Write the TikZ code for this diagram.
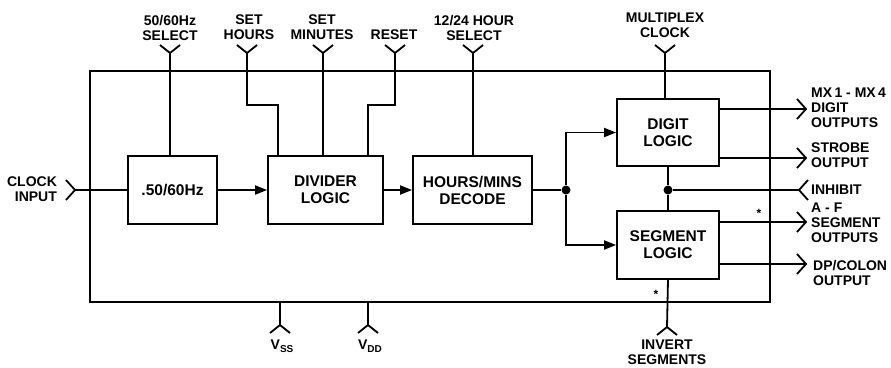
\documentclass[tikz,border=0pt]{standalone}
\usepackage{fontspec}
\setmainfont{Liberation Sans}
\usetikzlibrary{arrows.meta}

\begin{document}
\begin{tikzpicture}[x=1pt,y=-1pt,
    wire/.style={line width=1.8pt},
    blk/.style={draw,wire,align=center,inner sep=0pt,font=\bfseries\fontsize{15.5}{17}\selectfont},
    lbl/.style={align=center,inner sep=0pt,font=\bfseries\fontsize{14}{15}\selectfont},
    sig/.style={wire,-{Triangle[length=12pt,width=9pt]}},
    jdot/.style={circle,fill,inner sep=0pt,minimum size=9pt}]
  \useasboundingbox (0,0) rectangle (891,367);

  % chip outline and blocks
  \node[draw,wire,minimum width=680pt,minimum height=231pt] (chip) at (430,186.5) {};
  \node[blk,minimum width=89pt,minimum height=68pt] (hz) at (172.5,190) {.50/60Hz};
  \node[blk,minimum width=115pt,minimum height=68pt] (div) at (325.5,190) {DIVIDER\\LOGIC};
  \node[blk,minimum width=119pt,minimum height=68pt] (dec) at (472.5,190) {HOURS/MINS\\DECODE};
  \node[blk,minimum width=102pt,minimum height=67pt] (dig) at (668,132.5) {DIGIT\\LOGIC};
  \node[blk,minimum width=102pt,minimum height=68pt] (seg) at (668,245) {SEGMENT\\LOGIC};

  % top input pins
  \foreach \n/\x in {hzsel/170, sethr/247, setmin/323, rst/395, hrsel/473, mpx/665} {
    \coordinate (\n) at (\x,53);
    \draw[wire] (\n) ++(-10,-8) -- (\n) -- ++(10,-8);
  }
  \draw[wire] (hzsel) -- (hzsel |- hz.north);
  \draw[wire] (sethr) -- (247,105) -| ([xshift=-47.5pt]div.north);
  \draw[wire] (setmin) -- (setmin |- div.north);
  \draw[wire] (rst) -- (395,105) -| ([xshift=42.5pt]div.north);
  \draw[wire] (hrsel) -- (hrsel |- dec.north);
  \draw[wire] (mpx) -- (mpx |- dig.north);

  \node[lbl] (hzsell) at (170,27.5) {50/60Hz\\SELECT};
  \node[lbl] (sethrl) at (249,27.5) {SET\\HOURS};
  \node[lbl] (setminl) at (322,27.5) {SET\\MINUTES};
  \node[lbl] (rstl) at (394,35) {RESET};
  \node[lbl] (hrsell) at (474,27.5) {12/24 HOUR\\SELECT};
  \node[lbl] (mpxl) at (665,25) {MULTIPLEX\\CLOCK};

  % clock input
  \coordinate (clk) at (75,190);
  \draw[wire] (clk) ++(-9,-10) -- (clk) -- ++(-9,10);
  \draw[wire] (clk) -- (hz.west);
  \node[lbl,align=right] (clkl) at (32,189) {CLOCK\\INPUT};

  % data path
  \draw[sig] (hz) -- (div);
  \draw[sig] (div) -- (dec);
  \node[jdot] (j1) at (566,190) {};
  \draw[wire] (dec) -- (j1);
  \draw[sig] (j1) |- (dig.west);
  \draw[sig] (j1) |- (seg.west);
  \node[jdot] (j2) at (dig.south |- j1) {};
  \draw[wire] (dig) -- (j2) -- (seg);

  % inhibit input
  \coordinate (inh) at (799,190);
  \draw[wire] (inh) ++(9,-10) -- (inh) -- ++(9,10);
  \draw[wire] (inh) -- (j2);

  % outputs
  \foreach \n/\y in {dout/109, strb/158, sout/222, dpout/264} {
    \coordinate (\n) at (806,\y);
    \draw[wire] (\n) ++(-9,-10) -- (\n) -- ++(-9,10);
  }
  \draw[wire] (dig.east |- dout) -- (dout);
  \draw[wire] (dig.east |- strb) -- (strb);
  \draw[wire] (seg.east |- sout) -- (sout);
  \draw[wire] (seg.east |- dpout) -- (dpout);

  \node[lbl,align=left,anchor=west] (doutl) at (811,108) {MX\,1 - MX\,4\\DIGIT\\OUTPUTS};
  \node[lbl,align=left,anchor=west] (strbl) at (811,155) {STROBE\\OUTPUT};
  \node[lbl,align=left,anchor=west] (inhl) at (811,190) {INHIBIT};
  \node[lbl,align=left,anchor=west] (soutl) at (811,222.5) {A - F\\SEGMENT\\OUTPUTS};
  \node[lbl,align=left,anchor=west] (dpoutl) at (813,272.5) {DP/COLON\\OUTPUT};
  \node[inner sep=0pt,font=\bfseries\fontsize{12}{12}\selectfont] (st1) at (759,213) {*};

  % bottom pins
  \coordinate (inv) at (667,327);
  \draw[wire] (inv) ++(-10,8) -- (inv) -- ++(10,8);
  \draw[wire] (seg.south) -- (inv);
  \node[lbl] (invl) at (667,352.5) {INVERT\\SEGMENTS};
  \node[inner sep=0pt,font=\bfseries\fontsize{12}{12}\selectfont] (st2) at (656,294) {*};

  \foreach \n/\x/\t in {vss/280/SS, vdd/368/DD} {
    \coordinate (\n) at (\x,325);
    \draw[wire] (\n) ++(-10,8) -- (\n) -- ++(10,8);
    \draw[wire] (\n |- chip.south) -- (\n);
    \node[lbl] (\n l) at (\x+2,346) {V\raisebox{-2.5pt}{\fontsize{10}{10}\selectfont\t}};
  }
\end{tikzpicture}
\end{document}
